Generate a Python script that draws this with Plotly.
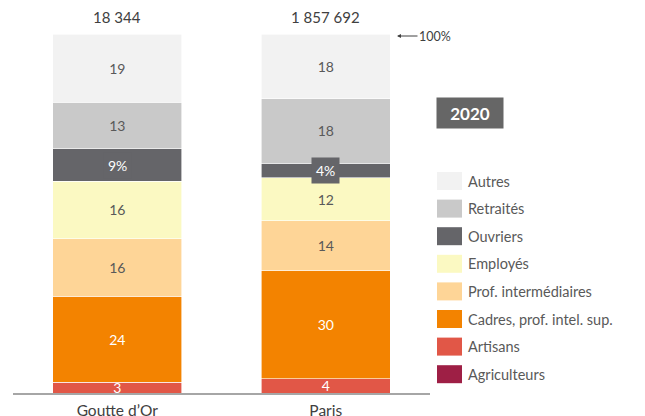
import plotly.graph_objects as go

W, H = 645, 416

zones = ["Goutte d’Or", "Paris"]
totals = ["18 344", "1 857 692"]

# bottom to top
categories = ["Agriculteurs", "Artisans", "Cadres, prof. intel. sup.", "Prof. intermédiaires",
              "Employés", "Ouvriers", "Retraités", "Autres"]
values = {
    "Agriculteurs": [0, 0],
    "Artisans": [3, 4],
    "Cadres, prof. intel. sup.": [24, 30],
    "Prof. intermédiaires": [16, 14],
    "Employés": [16, 12],
    "Ouvriers": [9, 4],
    "Retraités": [13, 18],
    "Autres": [19, 18],
}
colors = {
    "Agriculteurs": "#9E1F45",
    "Artisans": "#E15747",
    "Cadres, prof. intel. sup.": "#F38300",
    "Prof. intermédiaires": "#FED597",
    "Employés": "#FBF9C2",
    "Ouvriers": "#656569",
    "Retraités": "#C9C9C9",
    "Autres": "#F2F2F2",
}
white_text = {"Artisans", "Cadres, prof. intel. sup.", "Ouvriers"}
GREY = "#595959"
FONT = "Lato, 'Open Sans', sans-serif"


def px(x):
    return x / W


def py(y):
    return 1 - y / H


fig = go.Figure()
for cat in categories:
    vals = values[cat]
    if cat == "Ouvriers" or cat == "Agriculteurs":
        text = [""] * len(vals)
    else:
        text = [str(v) for v in vals]
    fig.add_trace(go.Bar(
        x=zones, y=vals, name=cat, width=0.62,
        marker=dict(color=colors[cat], line=dict(color="white", width=0.6)),
        text=text, textposition="inside", insidetextanchor="middle",
        textangle=0, constraintext="none", cliponaxis=False,
        textfont=dict(family=FONT, size=14, color="white" if cat in white_text else GREY),
        showlegend=False, hoverinfo="skip",
    ))

# Ouvriers labels with a dark box (spills over the thin Paris segment)
for i, z in enumerate(zones):
    below = sum(values[c][i] for c in categories[:categories.index("Ouvriers")])
    v = values["Ouvriers"][i]
    fig.add_annotation(
        x=z, y=below + v / 2, xref="x", yref="y", text=f"{v}%", showarrow=False,
        xanchor="center", yanchor="middle",
        font=dict(family=FONT, size=14, color="white"),
        bgcolor=colors["Ouvriers"], borderpad=4,
    )

# totals above bars
for z, t in zip(zones, totals):
    fig.add_annotation(
        x=z, y=1, xref="x", yref="y domain", text=t, showarrow=False,
        xanchor="center", yanchor="bottom", yshift=6,
        font=dict(family=FONT, size=15, color="#404040"),
    )

# 100% marker
fig.add_annotation(
    x=px(397), y=py(36), xref="paper", yref="paper", text="100%",
    showarrow=True, ax=38, ay=0, arrowhead=2, arrowsize=0.8, arrowwidth=1,
    arrowcolor="#404040", font=dict(family=FONT, size=12.5, color="#404040"),
)

# year box
fig.add_annotation(
    x=px(470), y=py(113), xref="paper", yref="paper", text="<b>2020</b>",
    showarrow=False, xanchor="center", yanchor="middle",
    bgcolor="#666666", borderpad=5, width=56, height=20,
    font=dict(family=FONT, size=17, color="white"),
)

# legend (top to bottom)
for k, cat in enumerate(reversed(categories)):
    yc = 181 + k * 27.6
    fig.add_shape(
        type="rect", xref="paper", yref="paper",
        x0=px(437), x1=px(462), y0=py(yc - 9), y1=py(yc + 9),
        fillcolor=colors[cat], line=dict(width=0),
    )
    fig.add_annotation(
        x=px(466), y=py(yc), xref="paper", yref="paper", text=cat,
        showarrow=False, xanchor="left", yanchor="middle",
        font=dict(family=FONT, size=14.5, color=GREY),
    )

fig.update_layout(
    barmode="stack",
    width=W, height=H,
    margin=dict(l=0, r=0, t=0, b=0, autoexpand=False),
    plot_bgcolor="white", paper_bgcolor="white",
    font=dict(family=FONT, color=GREY),
    xaxis=dict(
        domain=[px(13), px(430)], range=[-0.5, 1.5], automargin=False,
        showline=True, linecolor="#A6A6A6", linewidth=1.5,
        ticks="", ticklabelstandoff=3,
        tickfont=dict(family=FONT, size=15.5, color="#404040"),
        showgrid=False,
    ),
    yaxis=dict(
        domain=[py(393), py(34)], range=[0, 100], automargin=False,
        visible=False, showgrid=False,
    ),
)

fig.write_html(
    "out.html",
    config={"displayModeBar": False},
    post_script="document.body.style.margin='0';",
)
